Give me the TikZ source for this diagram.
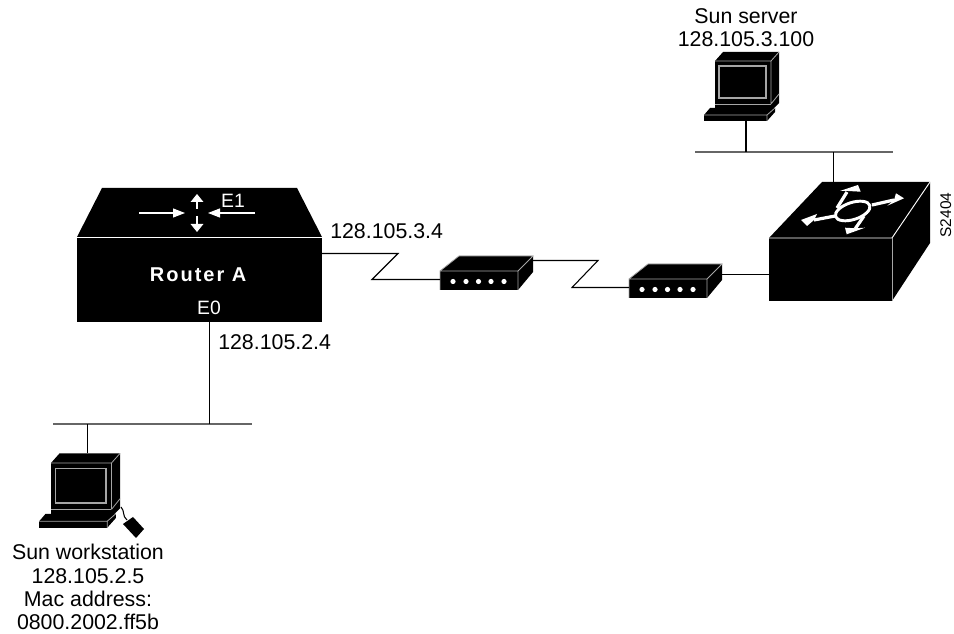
\documentclass[tikz,border=0pt]{standalone}
\usepackage{fontspec}
\setmainfont{Liberation Sans}
\usepackage{tikz}
\usetikzlibrary{arrows.meta,positioning,calc}
\tikzset{
  lbl/.style={font=\fontsize{16}{17.5}\selectfont,align=center,inner sep=0pt},
  wirebus/.style={draw=black!60,line width=1.1pt},
  wire/.style={draw=black,line width=0.8pt},
  whitearrow/.style={draw=white,line width=0.8pt,-{Triangle[length=9pt,width=6.75pt,fill=white]}},
  uparrow/.style={draw=white,line width=0.8pt,-{Triangle[length=6pt,width=9.5pt,fill=white]}},
  edge/.style={draw=white,line width=0.7pt},
  sunbox/.pic={
    % monitor
    \fill[black] (0,0) -- (8,-9) -- (64,-9) -- (64,42) -- (56,50) -- (0,50) -- cycle;
    \draw[black!35,line width=0.6pt] (0,0) -- (56,0) -- (64,-9) (56,0) -- (56,43) (56,43) -- (64,33);
    \draw[black!35,line width=1.2pt] (4,5) rectangle (51,37);
    \draw[black!35,line width=0.6pt] (0,43) -- (56,43);
    % keyboard
    \fill[black] (-11,54) -- (-5,47) -- (60,47) -- (60,51) -- (52,60) -- (-11,60) -- cycle;
    \draw[black!35,line width=0.6pt] (-11,54) -- (52,54) -- (60,47) (52,54) -- (52,60);
    \coordinate (-top) at (34,-9);
    \coordinate (-bottom) at (31,60);
  },
  modembox/.pic={
    \fill[black] (0,0) -- (19,-15) -- (93,-15) -- (93,1) -- (78,19) -- (0,19) -- cycle;
    \draw[black!35,line width=0.6pt] (0,19) -- (0,0) -- (78,0) -- (78,19) (78,0) -- (93,-15) -- (19,-15) -- (0,0);
    \foreach \px in {13,26,38.5,51,64}
      \fill[white] (\px,10.5) circle (2.6);
    \coordinate (-west) at (0,8.5);
    \coordinate (-east) at (93,-10.5);
  }
}
\begin{document}
\begin{tikzpicture}[x=0.75pt,y=-0.75pt]
  \useasboundingbox (0,0) rectangle (954,634);
  % Router A
  \fill[black] (102,188) -- (297,188) -- (322,237) -- (77,237) -- cycle;
  \node[fill=black,text=white,inner sep=0pt,minimum width=183.75pt,minimum height=63pt,
    font=\fontsize{15}{16}\selectfont\bfseries\addfontfeature{LetterSpace=10}] (routerA) at (199.5,280) {\raisebox{7.5pt}{Router A}\kern2pt};
  \draw[white,line width=0.7pt] (77,237.5) -- (322,237.5);
  \draw[whitearrow] (139,213) -- (185,213);
  \draw[whitearrow] (255,213) -- (208,213);
  \draw[uparrow] (197,209) -- (197,194);
  \draw[uparrow] (197,216) -- (197,232);
  \node[lbl,text=white,font=\fontsize{14.5}{16}\selectfont] (e1) at (233,201) {E1};
  \node[lbl,text=white,font=\fontsize{14.5}{16}\selectfont] (e0) at (209,308) {E0};
  % Switch
  \fill[black] (769,238) -- (822,182) -- (930,182) -- (930,243) -- (892,301) -- (769,301) -- cycle;
  \draw[edge] (769,238) -- (892,238) -- (930,182);
  \draw[black!35,line width=0.7pt] (892,238) -- (892,301);
  \draw[white,line width=2.2pt,rotate around={18:(852.7,211)}] (852.7,211) ellipse (18 and 8.5);
  \draw[white,line width=2.4pt] (814,220) -- (835,216) (872,205) -- (894,200)
    (837,208) -- (847,192) (864,216) -- (855,229);
  \fill[white] (801,220) -- (817,214) -- (814,220) -- (807,226) -- cycle;
  \fill[white] (904,198.3) -- (887.3,205.7) -- (894,200) -- (896,193.3) -- cycle;
  \fill[white] (840,191) -- (858,185) -- (860.7,191.7) -- (848,191) -- cycle;
  \fill[white] (845,227.7) -- (855,228.3) -- (865,227.7) -- (846.7,234.3) -- cycle;
  \coordinate (swTop) at (833.5,182);
  \coordinate (swWest) at (769,274.5);
  % Modems
  \pic (modemA) at (440,271) {modembox};
  \pic (modemB) at (629,279) {modembox};
  % Computers
  \pic (server) at (715,61) {sunbox};
  \pic[scale=1.08] (station) at (51,463) {sunbox};
  % Mouse
  \fill[black] (133,517) -- (144,529) -- (136,538) -- (123,524) -- cycle;
  \draw[wire] (121,507) .. controls (125,511) and (122,516) .. (127,520);
  % Buses
  \coordinate (busTopL) at (695,152);
  \coordinate (busTopR) at (893,152);
  \coordinate (busLowL) at (53,424);
  \coordinate (busLowR) at (252,424);
  \coordinate (routerSouth) at (209.5,322);
  \draw[wirebus] (busTopL) -- (busTopR);
  \draw[wirebus] (busLowL) -- (busLowR);
  \draw[wire] (server-bottom) -- (server-bottom |- busTopL);
  \draw[wire] (swTop) -- (swTop |- busTopL);
  \draw[wire] (station-top) -- (station-top |- busLowL);
  \draw[wire] (routerSouth) -- (routerSouth |- busLowL);
  % Serial links
  \coordinate (routerEast) at (322,253.5);
  \draw[wire] (routerEast) -- (398,253.5) -- (372,279.5) -- (modemA-west);
  \draw[wire] (modemA-east) -- (598,260.5) -- (572,287.5) -- (modemB-west);
  \draw[wire] (modemB-east |- swWest) -- (swWest);
  % Labels
  \node[lbl,anchor=base west] (addrE1) at (330,239) {128.105.3.4};
  \node[lbl,anchor=base west] (addrE0) at (218,350) {128.105.2.4};
  \node[lbl,anchor=south] (serverlbl) at (746,47) {Sun server\\128.105.3.100};
  \node[lbl,anchor=north] (stationlbl) at (88,544) {Sun workstation\\128.105.2.5\\Mac address:\\0800.2002.ff5b};
  \node[lbl,font=\fontsize{11.6}{13}\selectfont,rotate=90,anchor=base] (tag) at (951,215) {S2404};
\end{tikzpicture}
\end{document}
